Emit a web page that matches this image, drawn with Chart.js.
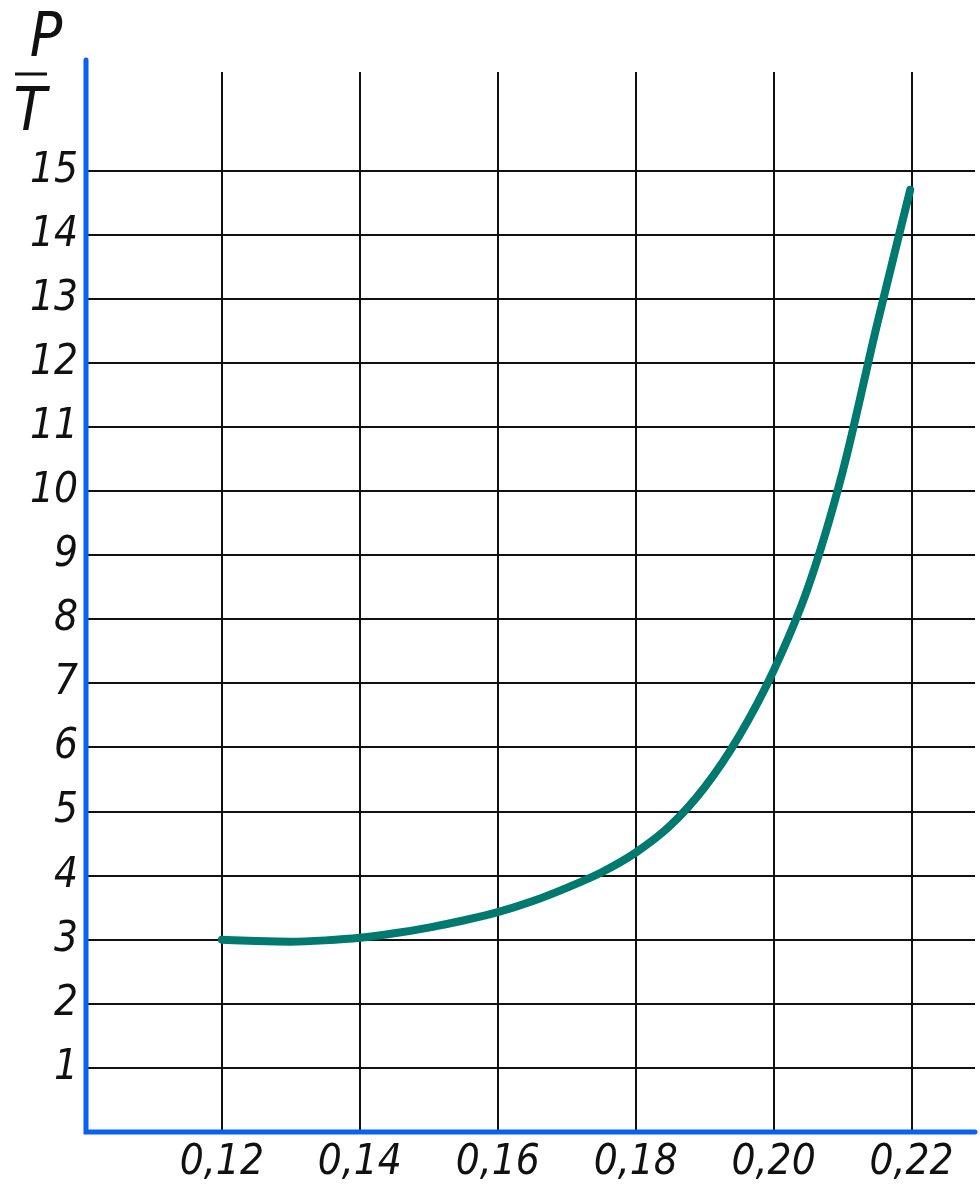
<!DOCTYPE html>
<html>
<head>
<meta charset="utf-8">
<script src="https://cdn.jsdelivr.net/npm/chart.js@4/dist/chart.umd.min.js"></script>
<style>
    html, body { margin: 0; padding: 0; background: #fff; }
    #wrap { width: 980px; height: 1187px; }
</style>
</head>
<body>
<div id="wrap"><canvas id="chart" width="980" height="1187"></canvas></div>
<script>
// values
const curveX = [0.12, 0.125, 0.13, 0.135, 0.14, 0.145, 0.15, 0.155, 0.16, 0.165, 0.17, 0.175, 0.18, 0.185, 0.19, 0.195, 0.20, 0.205, 0.21, 0.215, 0.2198];
const curveY = [3.0, 2.98, 2.97, 2.99, 3.03, 3.1, 3.19, 3.3, 3.43, 3.6, 3.81, 4.05, 4.36, 4.78, 5.38, 6.18, 7.2, 8.5, 10.3, 12.6, 14.7];
const xTicks = [0.12, 0.14, 0.16, 0.18, 0.20, 0.22];
const yTicks = [1, 2, 3, 4, 5, 6, 7, 8, 9, 10, 11, 12, 13, 14, 15];

const FONT = "'DejaVu Sans Condensed', 'DejaVu Sans', sans-serif";
const BLUE = '#0a5ff5';

// blue axes and the P/T label in the corner
const axesPlugin = {
    id: 'axesPlugin',
    afterDraw: function (chart) {
        const ctx = chart.ctx;
        const area = chart.chartArea;
        ctx.save();
        ctx.strokeStyle = BLUE;
        ctx.lineWidth = 5;
        ctx.lineCap = 'round';
        ctx.beginPath();
        ctx.moveTo(area.left, area.top - 12);
        ctx.lineTo(area.left, area.bottom);
        ctx.lineTo(area.right, area.bottom);
        ctx.stroke();

        ctx.fillStyle = '#111';
        ctx.font = 'italic 60px ' + FONT;
        ctx.textAlign = 'center';
        ctx.textBaseline = 'alphabetic';
        ctx.fillText('P', 46, 56);
        ctx.fillText('T', 30, 130);
        ctx.strokeStyle = '#111';
        ctx.lineWidth = 3;
        ctx.lineCap = 'butt';
        ctx.beginPath();
        ctx.moveTo(15, 74);
        ctx.lineTo(47, 74);
        ctx.stroke();
        ctx.restore();
    }
};

const points = curveX.map(function (x, i) { return { x: x, y: curveY[i] }; });

new Chart(document.getElementById('chart'), {
    type: 'line',
    data: {
        datasets: [{
            data: points,
            borderColor: '#00796e',
            borderWidth: 8,
            borderCapStyle: 'round',
            borderJoinStyle: 'round',
            cubicInterpolationMode: 'monotone',
            pointRadius: 0,
            fill: false
        }]
    },
    options: {
        responsive: false,
        animation: false,
        layout: { padding: { left: 0, top: 72, right: 5, bottom: 0 } },
        plugins: {
            legend: { display: false },
            tooltip: { enabled: false }
        },
        scales: {
            x: {
                type: 'linear',
                min: 0.1003,
                max: 0.2292,
                afterBuildTicks: function (scale) {
                    scale.ticks = xTicks.map(function (v) { return { value: v }; });
                },
                afterFit: function (scale) { scale.height = 55; },
                border: { display: false },
                grid: { color: '#111', lineWidth: 2, drawTicks: false },
                ticks: {
                    padding: 6,
                    maxRotation: 0,
                    autoSkip: false,
                    color: '#111',
                    font: { family: FONT, size: 42, style: 'italic' },
                    callback: function (v) { return v.toFixed(2).replace('.', ','); }
                }
            },
            y: {
                type: 'linear',
                min: 0,
                max: 16.54,
                afterBuildTicks: function (scale) {
                    scale.ticks = yTicks.map(function (v) { return { value: v }; });
                },
                afterFit: function (scale) { scale.width = 86; },
                border: { display: false },
                grid: { color: '#111', lineWidth: 2, drawTicks: false },
                ticks: {
                    padding: 8,
                    autoSkip: false,
                    color: '#111',
                    font: { family: FONT, size: 42, style: 'italic' },
                    callback: function (v) { return String(v); }
                }
            }
        }
    },
    plugins: [axesPlugin]
});
</script>
</body>
</html>
